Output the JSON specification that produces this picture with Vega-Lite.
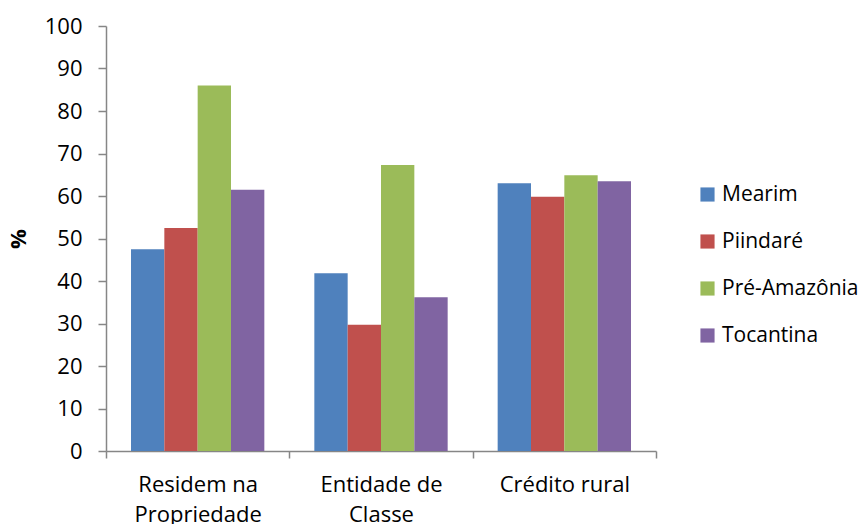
{
  "$schema": "https://vega.github.io/schema/vega-lite/v6.json",
  "autosize": {"type": "none"},
  "width": 550,
  "height": 425,
  "padding": {"left": 106, "top": 26, "right": 207, "bottom": 73},
  "background": "white",
  "config": {"view": {"stroke": null}, "font": "Open Sans"},
  "data": {"values": [
    {"cat": "Residem na Propriedade", "reg": "Mearim", "v": 47.5},
    {"cat": "Residem na Propriedade", "reg": "Piindaré", "v": 52.5},
    {"cat": "Residem na Propriedade", "reg": "Pré-Amazônia", "v": 86.0},
    {"cat": "Residem na Propriedade", "reg": "Tocantina", "v": 61.5},
    {"cat": "Entidade de Classe", "reg": "Mearim", "v": 41.8},
    {"cat": "Entidade de Classe", "reg": "Piindaré", "v": 29.7},
    {"cat": "Entidade de Classe", "reg": "Pré-Amazônia", "v": 67.3},
    {"cat": "Entidade de Classe", "reg": "Tocantina", "v": 36.2},
    {"cat": "Crédito rural", "reg": "Mearim", "v": 63.0},
    {"cat": "Crédito rural", "reg": "Piindaré", "v": 59.8},
    {"cat": "Crédito rural", "reg": "Pré-Amazônia", "v": 64.9},
    {"cat": "Crédito rural", "reg": "Tocantina", "v": 63.5}
  ]},
  "mark": {"type": "bar"},
  "encoding": {
    "x": {
      "field": "cat", "type": "nominal",
      "sort": ["Residem na Propriedade", "Entidade de Classe", "Crédito rural"],
      "scale": {"paddingInner": 0, "paddingOuter": 0},
      "axis": {
        "title": null, "labelAngle": 0, "labelFontSize": 22, "labelColor": "#000000",
        "labelPadding": 16, "labelLineHeight": 30,
        "labelExpr": "datum.label == 'Residem na Propriedade' ? ['Residem na', 'Propriedade'] : datum.label == 'Entidade de Classe' ? ['Entidade de', 'Classe'] : datum.label",
        "tickBand": "extent", "tickSize": 7, "tickColor": "#868686", "domainColor": "#868686", "domainWidth": 1.5, "tickWidth": 1.5
      }
    },
    "xOffset": {
      "field": "reg", "type": "nominal",
      "scale": {"paddingInner": 0, "paddingOuter": 0.75}
    },
    "y": {
      "field": "v", "type": "quantitative",
      "scale": {"domain": [0, 100], "nice": false},
      "axis": {
        "title": "%", "titleFontSize": 22, "titleFontWeight": "bold", "titleColor": "#000000",
        "titlePadding": 14, "values": [0,10,20,30,40,50,60,70,80,90,100],
        "labelFontSize": 22, "labelColor": "#000000", "labelPadding": 16,
        "grid": false, "tickSize": 8, "tickColor": "#868686", "domainColor": "#868686", "domainWidth": 1.5, "tickWidth": 1.5
      }
    },
    "color": {
      "field": "reg", "type": "nominal",
      "scale": {"domain": ["Mearim", "Piindaré", "Pré-Amazônia", "Tocantina"], "range": ["#4F81BD", "#C0504D", "#9BBB59", "#8064A2"]},
      "legend": {
        "title": null, "orient": "none", "legendX": 591, "legendY": 158,
        "symbolType": "square", "symbolSize": 200, "symbolStrokeWidth": 0,
        "labelFontSize": 21, "labelColor": "#000000", "rowPadding": 25, "labelOffset": 4
      }
    }
  }
}
